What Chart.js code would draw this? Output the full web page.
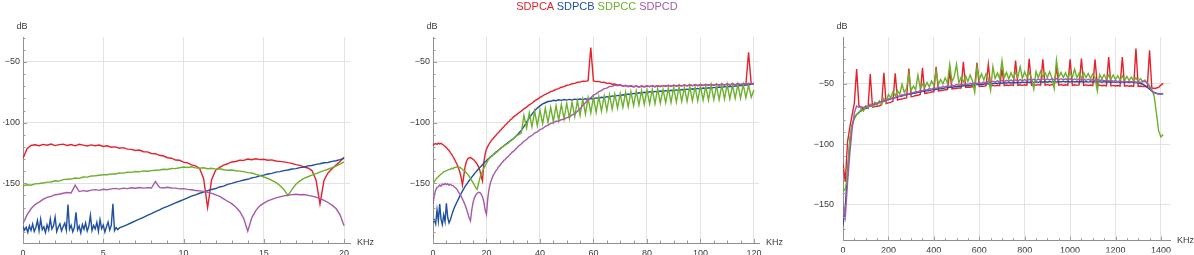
<!DOCTYPE html>
<html>
<head>
<meta charset="utf-8">
<title>SDPC spectra</title>
<script src="https://cdn.jsdelivr.net/npm/chart.js@4.4.0/dist/chart.umd.min.js"></script>
<style>
  html, body { margin: 0; padding: 0; background: #fff; }
  #wrap { position: relative; width: 1194px; height: 255px; overflow: hidden; }
  #wrap canvas { position: absolute; left: 0; top: 0; }
  #legend { position: absolute; left: 0; top: 0; width: 1194px; text-align: center; }
</style>
</head>
<body>
<div id="wrap">
  <canvas id="c1" width="1194" height="255"></canvas>
  <canvas id="c2" width="1194" height="255"></canvas>
  <canvas id="c3" width="1194" height="255"></canvas>
  <div id="legend"></div>
</div>
<script>
// Series names and colours (shared by the three panels)
const seriesNames = ['SDPCA', 'SDPCB', 'SDPCC', 'SDPCD'];
const seriesColors = ['#e5222b', '#1f4f9f', '#6cb02b', '#a45aa8'];

// ---- Panel 1: 0-20 KHz ----
const freq1 = [
  0, 0.25, 0.5, 0.75, 1, 1.25, 1.5, 1.75, 2, 2.25, 2.5, 2.75, 3, 3.25, 3.5, 3.75,
  4, 4.25, 4.5, 4.75, 5, 5.25, 5.5, 5.75, 6, 6.25, 6.5, 6.75, 7, 7.25, 7.5, 7.75,
  8, 8.25, 8.5, 8.75, 9, 9.25, 9.5, 9.75, 10, 10.25, 10.5, 10.75, 11, 11.25, 11.5, 11.75,
  12, 12.25, 12.5, 12.75, 13, 13.25, 13.5, 13.75, 14, 14.25, 14.5, 14.75, 15, 15.25, 15.5, 15.75,
  16, 16.25, 16.5, 16.75, 17, 17.25, 17.5, 17.75, 18, 18.25, 18.5, 18.75, 19, 19.25, 19.5, 19.75,
  20
];
// SDPCB has a finer sampling over its noisy floor (0-6 KHz)
const freq1B = [
  0, 0.1, 0.2, 0.3, 0.4, 0.5, 0.6, 0.7, 0.8, 0.9,
  1, 1.1, 1.2, 1.3, 1.4, 1.5, 1.6, 1.7, 1.8, 1.9,
  2, 2.1, 2.2, 2.3, 2.4, 2.5, 2.6, 2.7, 2.8, 2.9,
  3, 3.1, 3.2, 3.3, 3.4, 3.5, 3.6, 3.7, 3.8, 3.9,
  4, 4.1, 4.2, 4.3, 4.4, 4.5, 4.6, 4.7, 4.8, 4.9,
  5, 5.1, 5.2, 5.3, 5.4, 5.5, 5.6, 5.7, 5.8, 5.9,
  6, 6.25, 6.5, 6.75,
  7, 7.25, 7.5, 7.75, 8, 8.25, 8.5, 8.75, 9, 9.25, 9.5, 9.75, 10, 10.25, 10.5, 10.75,
  11, 11.25, 11.5, 11.75, 12, 12.25, 12.5, 12.75, 13, 13.25, 13.5, 13.75, 14, 14.25, 14.5, 14.75,
  15, 15.25, 15.5, 15.75, 16, 16.25, 16.5, 16.75, 17, 17.25, 17.5, 17.75, 18, 18.25, 18.5, 18.75,
  19, 19.25, 19.5, 19.75, 20
];
const p1A = [
  -129.6, -121.5, -118.8, -118.2, -119.0, -117.9, -118.6, -117.6, -118.9, -118.1, -117.7, -118.8,
  -118.0, -119.1, -117.8, -118.5, -119.2, -118.3, -119.0, -118.4, -119.6, -119.1, -120.3, -120.0,
  -121.1, -120.6, -121.8, -122.0, -122.9, -122.6, -124.0, -124.1, -125.4, -125.6, -126.9, -127.5,
  -128.9, -129.3, -130.8, -131.0, -132.6, -133.2, -134.8, -135.6, -137.8, -146.0, -170.0, -147.0,
  -139.2, -136.8, -135.0, -133.9, -132.4, -132.0, -130.9, -131.1, -130.0, -130.6, -129.8, -130.5,
  -130.2, -131.0, -130.7, -131.6, -131.9, -132.3, -133.0, -133.6, -134.6, -135.2, -136.6, -137.4,
  -139.5, -147.0, -167.0, -147.5, -141.5, -138.0, -135.0, -132.0, -128.5
];
const p1B = [
  -185.5, -188.6, -186.2, -190.4, -185.0, -188.8, -183.6, -189.6, -186.4, -180.6,
  -189.0, -179.5, -188.2, -185.8, -190.6, -184.2, -188.4, -179.3, -187.6, -185.0,
  -177.8, -189.8, -186.0, -183.4, -189.2, -185.6, -182.8, -188.6, -167.4, -187.8,
  -184.6, -190.0, -186.2, -174.0, -188.4, -185.2, -190.8, -184.0, -187.9, -182.6,
  -189.4, -185.4, -176.4, -189.0, -184.8, -187.6, -182.2, -189.6, -180.0, -187.4,
  -184.4, -190.2, -185.8, -182.0, -188.6, -184.6, -166.8, -189.0, -186.4, -188.2,
  -186.8, -185.5, -184.0, -182.5,
  -181.0, -179.6, -178.0, -176.5, -175.0, -173.4, -171.9, -170.3, -169.0, -167.6, -166.2, -164.8,
  -163.4, -162.0, -160.6, -159.5, -158.2, -157.3, -156.0, -155.1, -154.3, -153.0, -152.3, -150.9,
  -150.1, -149.0, -148.2, -147.3, -146.7, -145.5, -144.9, -143.8, -143.3, -142.3, -141.8, -140.8,
  -140.4, -139.5, -139.0, -138.2, -137.9, -137.1, -136.7, -135.6, -135.3, -134.4, -133.9, -133.1,
  -132.8, -131.9, -131.4, -130.5, -129.4
];
const p1C = [
  -152.0, -151.2, -151.6, -150.5, -150.2, -149.8, -149.0, -148.9, -147.9, -148.2, -147.0, -146.6,
  -146.5, -145.6, -145.9, -144.8, -144.9, -144.0, -143.8, -143.4, -143.0, -142.9, -142.2, -142.3,
  -141.5, -141.6, -140.9, -141.0, -140.3, -140.6, -139.8, -140.1, -139.5, -139.2, -139.0, -138.4,
  -138.6, -137.8, -137.9, -137.2, -136.6, -137.0, -136.4, -137.3, -137.6, -137.2, -138.0, -137.6,
  -138.3, -138.0, -138.8, -139.2, -139.0, -139.6, -140.0, -140.4, -141.2, -141.5, -142.6, -143.4,
  -144.8, -145.9, -147.6, -149.3, -151.8, -155.0, -160.0, -155.2, -150.8, -148.0, -146.0, -144.6,
  -143.2, -142.0, -140.8, -139.6, -138.4, -137.0, -135.8, -134.2, -132.4
];
const p1D = [
  -183.0, -176.0, -171.0, -167.5, -165.5, -163.2, -161.6, -160.8, -159.4, -159.0, -158.2, -157.6,
  -157.9, -151.5, -156.8, -156.0, -156.5, -155.6, -155.2, -155.8, -154.9, -155.3, -154.6, -154.2,
  -154.8, -154.0, -154.4, -153.7, -154.1, -153.5, -154.0, -153.6, -153.9, -148.5, -153.4, -153.8,
  -153.2, -153.9, -154.0, -154.6, -154.4, -155.0, -155.3, -155.9, -156.2, -156.6, -157.4, -158.3,
  -159.6, -160.8, -162.8, -164.8, -166.8, -169.5, -173.2, -179.0, -189.5, -178.5, -172.5, -168.6,
  -166.4, -164.5, -163.2, -162.0, -161.2, -160.4, -159.8, -159.3, -159.0, -159.4, -159.2, -159.9,
  -160.6, -161.4, -162.5, -164.0, -165.8, -168.0, -170.8, -176.0, -185.0
];

// ---- Panel 2: 0-120 KHz ----
const freq2 = [
  0, 0.5, 1, 1.5, 2, 2.5, 3, 3.5, 4, 4.5,
  5, 5.5, 6, 6.5, 7, 7.5, 8, 8.5, 9, 9.5,
  10, 10.5, 11, 11.5, 12, 12.5, 13, 13.5, 14, 14.5,
  15, 15.5, 16, 16.5, 17, 17.5, 18, 18.5, 19, 19.5,
  20, 20.5, 21, 21.5, 22, 22.5, 23, 23.5, 24, 24.5,
  25, 25.5, 26, 26.5, 27, 27.5, 28, 28.5, 29, 29.5,
  30,
  31, 32, 33, 34, 35, 36, 37, 38, 39, 40,
  41, 42, 43, 44, 45, 46, 47, 48, 49, 50,
  51, 52, 53, 54, 55, 56, 57, 58, 59, 60,
  61, 62, 63, 64, 65, 66, 67, 68, 69, 70,
  71, 72, 73, 74, 75, 76, 77, 78, 79, 80,
  81, 82, 83, 84, 85, 86, 87, 88, 89, 90,
  91, 92, 93, 94, 95, 96, 97, 98, 99, 100,
  101, 102, 103, 104, 105, 106, 107, 108, 109, 110,
  111, 112, 113, 114, 115, 116, 117, 118, 119, 120
];
const p2A = [
  -119.0, -117.6, -117.2, -117.9, -116.9, -117.5, -117.0, -118.0, -118.6, -119.6,
  -120.4, -121.9, -123.0, -124.7, -126.2, -128.1, -130.0, -132.2, -134.5, -137.2,
  -140.5, -145.0, -151.5, -144.0, -136.5, -132.0, -129.8, -129.1, -128.7, -129.5,
  -130.2, -131.3, -132.6, -134.2, -136.2, -139.2, -144.0, -148.0, -133.0, -126.0,
  -121.8, -119.6, -117.4, -115.9, -114.2, -113.1, -111.6, -110.6, -109.1, -108.2,
  -106.7, -105.8, -104.3, -103.4, -101.9, -101.1, -99.6, -98.9, -97.5, -96.8,
  -95.4,
  -93.8, -92.0, -90.5, -88.6, -87.2, -85.3, -84.0, -82.1, -80.8, -79.2,
  -78.0, -76.6, -75.6, -74.4, -73.7, -72.6, -72.0, -70.8, -70.3, -69.2,
  -68.9, -67.9, -67.6, -66.7, -66.6, -65.8, -66.0, -65.4, -38.0, -65.6,
  -66.2, -66.0, -66.8, -66.7, -67.6, -67.4, -68.3, -68.2, -69.0, -69.0,
  -69.8, -69.5, -70.2, -69.8, -70.4, -69.9, -70.5, -70.0, -70.4, -69.8,
  -70.3, -69.7, -70.2, -69.6, -70.1, -69.5, -70.0, -69.4, -69.9, -69.3,
  -69.8, -69.2, -69.7, -69.1, -69.6, -69.0, -69.5, -68.9, -69.4, -68.8,
  -69.3, -68.7, -69.2, -68.6, -69.1, -68.5, -69.0, -68.4, -68.9, -68.3,
  -68.8, -68.2, -68.7, -68.1, -68.6, -68.0, -68.5, -42.0, -68.4, -67.8
];
const p2B = [
  -182.0, -180.2, -183.5, -172.0, -181.0, -167.0, -179.5, -184.0, -176.0, -181.5,
  -166.5, -178.0, -182.5, -180.0, -176.2, -172.8, -170.0, -167.6, -165.2, -163.0,
  -160.6, -158.6, -156.5, -154.6, -152.6, -151.0, -149.4, -147.9, -146.4, -144.9,
  -143.6, -142.0, -140.8, -139.4, -138.3, -137.0, -136.0, -134.7, -133.6, -132.3,
  -131.4, -130.1, -129.3, -128.1, -127.4, -126.2, -125.5, -124.3, -123.7, -122.5,
  -121.9, -120.7, -120.1, -119.0, -118.4, -117.3, -116.7, -115.6, -115.0, -113.9,
  -113.3,
  -111.2, -109.0, -106.4, -103.2, -99.6, -96.0, -93.0, -90.2, -88.0, -86.2,
  -84.6, -83.6, -82.6, -82.4, -81.6, -81.9, -81.2, -81.6, -80.9, -81.4,
  -80.8, -81.3, -80.6, -81.1, -80.5, -81.0, -80.3, -80.8, -80.1, -80.4,
  -79.6, -79.9, -79.1, -79.4, -78.6, -78.9, -78.0, -78.3, -77.5, -77.8,
  -77.0, -77.2, -76.4, -76.7, -75.9, -76.2, -75.4, -75.7, -75.0, -75.3,
  -74.5, -74.9, -74.2, -74.6, -73.9, -74.3, -73.6, -74.0, -73.3, -73.7,
  -73.0, -73.4, -72.7, -73.1, -72.4, -72.8, -72.1, -72.5, -71.8, -72.2,
  -71.5, -71.9, -71.2, -71.6, -70.9, -71.3, -70.6, -71.0, -70.3, -70.7,
  -70.0, -70.4, -69.7, -70.0, -69.3, -69.5, -68.8, -68.9, -68.2, -67.8
];
const p2C = [
  -150.3, -148.6, -147.0, -145.6, -144.6, -143.3, -142.4, -141.7, -140.6, -140.1,
  -139.6, -139.1, -138.5, -138.5, -137.6, -137.9, -137.0, -136.9, -136.4, -136.7,
  -136.8, -137.6, -138.4, -139.6, -140.2, -141.5, -142.6, -144.1, -145.8, -147.7,
  -149.5, -151.6, -153.5, -155.0, -150.5, -146.0, -142.6, -140.0, -137.7, -135.4,
  -133.5, -131.3, -129.7, -128.5, -127.7, -126.4, -125.9, -124.6, -124.1, -122.6,
  -121.9, -120.6, -120.1, -118.9, -118.4, -117.6, -117.1, -116.0, -115.1, -114.3,
  -113.7,
  -111.2, -109.8, -108.6, -94.0, -104.5, -92.0, -103.5, -90.5, -102.5, -89.5,
  -101.0, -88.0, -100.0, -87.5, -99.0, -86.0, -98.0, -85.0, -97.0, -84.0,
  -96.5, -83.0, -95.0, -82.0, -94.0, -80.5, -93.0, -79.5, -92.0, -79.0,
  -91.5, -78.5, -90.5, -78.0, -90.0, -77.0, -89.0, -76.5, -88.0, -76.0,
  -87.5, -75.0, -87.0, -74.5, -86.0, -74.0, -85.5, -73.5, -85.0, -73.0,
  -84.5, -72.5, -84.5, -72.0, -84.0, -72.5, -83.5, -71.5, -83.5, -71.0,
  -83.0, -70.5, -82.5, -71.0, -82.5, -70.0, -82.0, -70.5, -82.0, -69.5,
  -81.5, -70.0, -81.5, -69.0, -81.0, -69.5, -81.0, -69.0, -80.5, -68.5,
  -80.5, -69.0, -80.0, -68.5, -80.0, -68.5, -79.5, -69.0, -79.0, -73.0
];
const p2D = [
  -167.0, -160.0, -155.6, -153.4, -152.8, -151.4, -152.3, -150.5, -151.3, -150.1,
  -151.1, -150.3, -151.6, -150.8, -151.7, -151.9, -153.0, -153.9, -155.0, -157.0,
  -158.7, -160.5, -162.9, -165.2, -167.9, -171.0, -174.6, -178.4, -181.0, -172.0,
  -165.6, -161.8, -159.7, -158.2, -157.5, -157.6, -158.9, -161.0, -165.2, -172.0,
  -175.5, -162.0, -154.2, -149.6, -146.3, -143.5, -141.7, -139.7, -138.3, -136.5,
  -135.4, -133.7, -132.7, -131.1, -130.4, -128.9, -128.3, -126.8, -125.9, -124.5,
  -123.9,
  -121.5, -119.2, -117.6, -115.3, -113.9, -111.7, -110.6, -108.6, -107.6, -105.7,
  -104.9, -103.0, -102.3, -100.6, -100.1, -98.8, -98.6, -97.5, -97.2, -95.8,
  -95.3, -93.6, -92.8, -90.6, -88.6, -85.8, -83.6, -81.0, -79.4, -77.2,
  -76.2, -74.4, -73.6, -72.0, -71.6, -70.2, -70.1, -69.0, -69.6, -68.6,
  -70.0, -69.1, -70.3, -69.4, -70.6, -69.6, -70.8, -69.7, -70.6, -69.5,
  -70.4, -69.4, -70.5, -69.6, -70.4, -69.3, -70.2, -69.1, -70.1, -69.0,
  -70.0, -68.9, -69.9, -68.8, -69.8, -68.7, -69.6, -68.6, -69.5, -68.5,
  -69.4, -68.4, -69.3, -68.3, -69.2, -68.2, -69.1, -68.1, -69.0, -68.0,
  -68.9, -67.9, -68.8, -67.8, -68.7, -67.7, -68.5, -67.5, -68.2, -67.2
];

// ---- Panel 3: 0-1410 KHz ----
const freq3 = [
  0, 10, 20, 30, 40, 50, 60, 70, 80, 90,
  100, 110, 120, 130, 140, 150, 160, 170, 180, 190,
  200, 210, 220, 230, 240, 250, 260, 270, 280, 290,
  300, 310, 320, 330, 340, 350, 360, 370, 380, 390,
  400, 410, 420, 430, 440, 450, 460, 470, 480, 490,
  500, 510, 520, 530, 540, 550, 560, 570, 580, 590,
  600, 610, 620, 630, 640, 650, 660, 670, 680, 690,
  700, 710, 720, 730, 740, 750, 760, 770, 780, 790,
  800, 810, 820, 830, 840, 850, 860, 870, 880, 890,
  900, 910, 920, 930, 940, 950, 960, 970, 980, 990,
  1000, 1010, 1020, 1030, 1040, 1050, 1060, 1070, 1080, 1090,
  1100, 1110, 1120, 1130, 1140, 1150, 1160, 1170, 1180, 1190,
  1200, 1210, 1220, 1230, 1240, 1250, 1260, 1270, 1280, 1290,
  1300, 1310, 1320, 1330, 1340, 1350, 1360, 1370, 1380, 1390,
  1400, 1410
];
const p3A = [
  -116.0, -131.0, -98.0, -86.0, -76.0, -66.0, -38.0, -68.0, -70.0, -70.8,
  -70.2, -70.5, -42.0, -69.6, -69.0, -68.6, -68.2, -67.4, -41.0, -66.4,
  -65.8, -65.4, -64.6, -41.5, -63.6, -63.0, -62.7, -62.0, -61.8, -37.5,
  -60.8, -60.5, -59.8, -59.6, -58.9, -37.0, -58.1, -57.7, -57.4, -56.9,
  -56.8, -36.0, -56.0, -55.6, -55.5, -55.0, -54.9, -40.0, -54.4, -54.0,
  -54.0, -53.5, -53.6, -32.0, -53.1, -52.8, -52.9, -52.4, -52.6, -32.7,
  -52.3, -51.9, -52.2, -51.7, -34.0, -51.9, -51.4, -51.8, -51.3, -51.7,
  -38.0, -51.6, -51.1, -51.5, -51.0, -51.5, -31.0, -51.4, -50.9, -51.4,
  -50.9, -51.3, -29.5, -51.3, -50.8, -51.3, -50.8, -51.3, -30.0, -51.3,
  -50.8, -51.3, -50.8, -51.3, -36.0, -51.3, -50.8, -51.3, -50.9, -51.4,
  -30.0, -51.4, -50.9, -51.4, -51.0, -29.2, -51.5, -51.0, -51.5, -51.1,
  -51.6, -30.0, -51.6, -51.2, -51.7, -51.3, -51.8, -28.0, -51.8, -51.4,
  -51.9, -51.5, -52.0, -28.0, -52.0, -51.6, -52.1, -51.7, -52.2, -21.0,
  -52.2, -51.9, -52.4, -52.3, -53.0, -22.5, -53.6, -54.0, -53.6, -53.0,
  -51.2, -49.8
];
const p3B = [
  -167.0, -152.0, -122.0, -98.0, -84.0, -78.0, -75.5, -73.6, -72.4, -71.2,
  -70.3, -69.2, -68.6, -67.8, -67.2, -66.1, -65.8, -64.9, -64.5, -63.6,
  -63.3, -62.5, -62.2, -61.4, -61.1, -60.4, -60.2, -59.5, -59.3, -58.7,
  -58.4, -57.9, -57.7, -57.1, -57.0, -56.4, -56.3, -55.8, -55.7, -55.1,
  -55.0, -54.6, -54.5, -54.0, -54.0, -53.5, -53.5, -53.0, -53.1, -52.6,
  -52.6, -52.1, -52.2, -51.7, -51.8, -51.3, -51.5, -50.9, -51.1, -50.6,
  -50.8, -50.3, -50.5, -50.0, -50.3, -49.8, -50.1, -49.6, -49.9, -49.4,
  -49.7, -49.2, -49.5, -49.0, -49.4, -48.9, -49.3, -48.8, -49.2, -48.7,
  -49.1, -48.6, -49.0, -48.5, -48.9, -48.4, -48.9, -48.3, -48.8, -48.3,
  -48.8, -48.2, -48.7, -48.2, -48.7, -48.2, -48.6, -48.1, -48.6, -48.1,
  -48.6, -48.1, -48.6, -48.2, -48.6, -48.2, -48.7, -48.2, -48.7, -48.3,
  -48.7, -48.3, -48.7, -48.3, -48.8, -48.3, -48.8, -48.4, -48.8, -48.4,
  -48.9, -48.4, -48.9, -48.5, -48.9, -48.5, -49.0, -48.6, -48.8, -49.0,
  -49.4, -49.9, -50.5, -51.5, -53.0, -54.5, -56.0, -57.2, -57.9, -58.3,
  -58.5, -58.3
];
const p3C = [
  -139.0, -137.0, -126.0, -96.0, -84.0, -79.0, -75.5, -74.2, -71.0, -72.6,
  -68.5, -70.4, -66.8, -69.2, -65.4, -67.6, -64.2, -66.8, -62.2, -65.0,
  -59.0, -61.5, -56.8, -60.0, -55.6, -58.8, -50.5, -57.4, -53.8, -42.0,
  -55.6, -52.0, -55.0, -43.0, -53.8, -50.6, -53.2, -49.0, -52.8, -47.8,
  -51.5, -39.5, -50.8, -46.6, -50.2, -45.2, -49.6, -34.0, -48.4, -44.2,
  -34.0, -49.6, -44.8, -48.6, -43.6, -48.2, -42.8, -47.6, -57.0, -36.0,
  -46.5, -42.0, -47.0, -41.8, -46.0, -55.5, -36.0, -45.8, -41.2, -46.0,
  -31.0, -45.0, -40.8, -46.2, -41.0, -45.5, -40.6, -44.8, -36.0, -45.6,
  -40.2, -44.9, -40.5, -45.4, -54.5, -40.0, -45.2, -39.8, -44.6, -41.0,
  -45.0, -40.2, -45.2, -54.0, -30.5, -44.6, -40.8, -45.0, -41.0, -45.4,
  -40.5, -44.8, -38.0, -45.2, -41.2, -45.6, -40.8, -45.0, -41.6, -45.8,
  -42.0, -45.2, -56.0, -42.4, -46.0, -42.6, -46.4, -43.0, -46.2, -42.8,
  -46.6, -43.4, -46.8, -43.6, -47.2, -44.0, -47.4, -44.6, -47.8, -45.2,
  -48.0, -45.8, -48.4, -47.0, -50.0, -51.6, -55.0, -60.0, -74.0, -89.0,
  -94.0, -92.0
];
const p3D = [
  -149.0, -160.0, -132.0, -108.0, -88.0, -74.0, -68.5, -69.5, -69.0, -69.8,
  -68.6, -68.9, -67.6, -67.8, -66.4, -66.2, -65.0, -65.1, -63.8, -64.0,
  -62.6, -62.5, -61.4, -61.6, -60.3, -60.4, -59.2, -59.5, -58.2, -58.6,
  -57.3, -57.6, -56.4, -56.9, -55.6, -56.0, -54.8, -55.3, -54.1, -54.6,
  -53.4, -54.0, -52.8, -53.4, -52.2, -52.9, -51.7, -52.4, -51.2, -51.9,
  -50.8, -51.5, -50.4, -51.0, -50.0, -50.7, -49.6, -50.3, -49.3, -50.0,
  -49.0, -49.7, -48.6, -49.4, -48.3, -49.1, -48.0, -48.8, -47.7, -48.5,
  -47.5, -48.3, -47.2, -48.0, -47.0, -47.9, -46.9, -47.7, -46.7, -47.6,
  -46.6, -47.5, -46.4, -47.3, -46.3, -47.2, -46.2, -47.1, -46.1, -47.0,
  -46.0, -47.0, -46.0, -46.9, -45.9, -46.9, -45.9, -46.9, -46.0, -46.9,
  -46.0, -47.0, -46.1, -47.0, -46.1, -47.1, -46.2, -47.2, -46.3, -47.3,
  -46.4, -47.4, -46.6, -47.5, -46.8, -47.7, -47.0, -47.9, -47.2, -48.1,
  -47.4, -48.3, -47.6, -48.5, -47.8, -48.6, -48.0, -48.8, -48.2, -49.0,
  -48.4, -49.0, -48.2, -48.0, -49.5, -53.0, -56.0, -57.5, -58.0, -58.6,
  -58.4, -58.0
];

// tick labels
const xTicks1 = [0, 5, 10, 15, 20];
const xTicks2 = [0, 20, 40, 60, 80, 100, 120];
const xTicks3 = [0, 200, 400, 600, 800, 1000, 1200, 1400];
const yTicks = [-150, -100, -50];

// pick a narrow face if the machine has one (the reference text is condensed)
function hasFont(name) {
  const c = document.createElement('canvas').getContext('2d');
  c.font = '20px monospace';
  const w = c.measureText('SDPCA 0123456789').width;
  c.font = '20px "' + name + '", monospace';
  return c.measureText('SDPCA 0123456789').width !== w;
}
const NARROW = hasFont('Liberation Sans Narrow');
const FONT = NARROW ? '"Liberation Sans Narrow", "Liberation Sans", sans-serif' : '"Liberation Sans", Arial, sans-serif';
const TICK_SIZE = NARROW ? 10 : 9;
const LEGEND_SIZE = NARROW ? 13 : 11;
const TEXT_COLOR = '#3a3a3a';

function fmt(v) {
  return v < 0 ? '\u2212' + (-v) : String(v);
}

// inward minor/major ticks plus the "dB" and "KHz" axis labels
const axisDecor = {
  id: 'axisDecor',
  afterDraw(chart, args, o) {
    const { ctx, chartArea: a } = chart;
    const x = chart.scales.x, y = chart.scales.y;
    ctx.save();
    ctx.strokeStyle = '#9c9c9c';
    ctx.lineWidth = 1;
    ctx.beginPath();
    const per = Math.round(o.xMajor / o.xMinor);
    for (let k = Math.ceil(x.min / o.xMinor); k * o.xMinor <= x.max; k++) {
      const px = Math.round(x.getPixelForValue(k * o.xMinor)) + 0.5;
      const len = (k % per === 0) ? 4 : 2.5;
      ctx.moveTo(px, a.bottom);
      ctx.lineTo(px, a.bottom - len);
    }
    for (let k = Math.ceil(y.min / 10); k * 10 <= y.max; k++) {
      const py = Math.round(y.getPixelForValue(k * 10)) + 0.5;
      const len = (k % 5 === 0) ? 4 : 2.5;
      ctx.moveTo(a.left, py);
      ctx.lineTo(a.left + len, py);
    }
    ctx.stroke();

    ctx.fillStyle = TEXT_COLOR;
    ctx.font = TICK_SIZE + 'px ' + FONT;
    ctx.textBaseline = 'middle';
    ctx.textAlign = 'center';
    ctx.fillText('dB', a.left - 1, a.top - 10);
    ctx.textAlign = 'left';
    ctx.fillText('KHz', a.right + 7, a.bottom);
    ctx.restore();
  }
};

function makePanel(id, p) {
  const datasets = p.series.map((s, i) => ({
    label: seriesNames[i],
    data: s.x.map((f, j) => ({ x: f, y: s.y[j] })),
    borderColor: seriesColors[i],
    backgroundColor: seriesColors[i],
    borderWidth: 1.4,
    pointRadius: 0,
    tension: 0,
    fill: false,
    order: 4 - i
  }));

  const tickFont = { family: FONT, size: TICK_SIZE };
  const gridColor = '#e3e3e3';

  return new Chart(document.getElementById(id), {
    type: 'line',
    data: { datasets },
    options: {
      responsive: false,
      animation: false,
      devicePixelRatio: 1,
      events: [],
      layout: { padding: { left: p.left - p.yAxisW, right: 1194 - p.right, top: p.top, bottom: 0 } },
      plugins: {
        legend: { display: false },
        tooltip: { enabled: false },
        axisDecor: { xMinor: p.xMinor, xMajor: p.xMajor }
      },
      scales: {
        x: {
          type: 'linear',
          min: p.xMin,
          max: p.xMax,
          afterBuildTicks(s) { s.ticks = p.xTicks.map(v => ({ value: v })); },
          afterFit(s) { s.height = 12; },
          grid: { color: gridColor, drawTicks: false },
          border: { color: '#8f8f8f' },
          ticks: {
            autoSkip: false,
            maxRotation: 0,
            padding: 5,
            color: TEXT_COLOR,
            font: tickFont,
            callback: fmt
          }
        },
        y: {
          type: 'linear',
          min: p.yMin,
          max: p.yMax,
          afterBuildTicks(s) { s.ticks = yTicks.map(v => ({ value: v })); },
          afterFit(s) { s.width = p.yAxisW; },
          grid: { color: gridColor, drawTicks: false },
          border: { color: '#8f8f8f' },
          ticks: {
            autoSkip: false,
            padding: p.yPad,
            color: TEXT_COLOR,
            font: tickFont,
            callback: fmt
          }
        }
      }
    },
    plugins: [axisDecor]
  });
}

makePanel('c1', {
  series: [
    { x: freq1, y: p1A }, { x: freq1B, y: p1B }, { x: freq1, y: p1C }, { x: freq1, y: p1D }
  ],
  xTicks: xTicks1, xMin: 0, xMax: 20.37, xMajor: 5, xMinor: 1,
  yMin: -199.2, yMax: -29.4,
  left: 23, right: 350, top: 37, yAxisW: 20, yPad: 3
});
makePanel('c2', {
  series: [
    { x: freq2, y: p2A }, { x: freq2, y: p2B }, { x: freq2, y: p2C }, { x: freq2, y: p2D }
  ],
  xTicks: xTicks2, xMin: 0, xMax: 121.9, xMajor: 20, xMinor: 5,
  yMin: -199.2, yMax: -29.4,
  left: 433, right: 759, top: 37, yAxisW: 40, yPad: 3
});
makePanel('c3', {
  series: [
    { x: freq3, y: p3A }, { x: freq3, y: p3B }, { x: freq3, y: p3C }, { x: freq3, y: p3D }
  ],
  xTicks: xTicks3, xMin: 0, xMax: 1440, xMajor: 200, xMinor: 50,
  yMin: -179.5, yMax: -11.5,
  left: 843, right: 1170, top: 37, yAxisW: 40, yPad: 9
});

// legend: coloured series names centred at the top
const legend = document.getElementById('legend');
legend.style.font = LEGEND_SIZE + 'px ' + FONT;
legend.style.lineHeight = '13px';
seriesNames.forEach((name, i) => {
  const span = document.createElement('span');
  span.textContent = name;
  span.style.color = seriesColors[i];
  legend.appendChild(span);
  if (i < seriesNames.length - 1) legend.appendChild(document.createTextNode(' '));
});
</script>
</body>
</html>
